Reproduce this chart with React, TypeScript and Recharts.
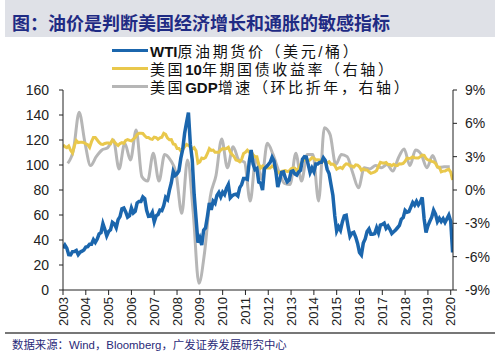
import React from 'react';
import { LineChart, Line, XAxis, YAxis } from 'recharts';

// WTI crude futures price (USD/bbl), monthly, Jan 2003 - Feb 2020
const wtiMonthly = [
  33.5, 35.9, 33.5, 28.3, 28.1, 30.7, 30.8, 31.6, 28.3, 30.3, 31.1, 32.1,
  34.3, 34.7, 36.7, 36.7, 40.3, 38.0, 40.7, 44.9, 45.9, 53.1, 48.5, 43.3,
  46.8, 48.1, 54.2, 53.0, 49.8, 56.3, 58.7, 65.0, 65.6, 62.4, 58.3, 59.4,
  65.5, 61.6, 62.9, 69.7, 70.9, 70.9, 74.4, 73.0, 63.8, 58.9, 59.1, 62.0,
  54.5, 59.3, 60.4, 63.9, 63.5, 67.5, 74.1, 72.4, 79.9, 85.8, 94.8, 91.7,
  93.0, 95.4, 105.5, 112.6, 125.4, 134.0, 142.0, 116.7, 104.1, 76.6, 57.3, 38.0,
  41.7, 36.0, 47.9, 49.7, 59.0, 69.6, 64.2, 71.1, 69.4, 75.7, 78.0, 74.5,
  78.3, 76.4, 81.2, 84.3, 73.7, 75.3, 76.3, 76.6, 75.2, 81.9, 84.3, 89.2,
  89.2, 88.6, 102.9, 112.0, 100.9, 96.3, 97.3, 86.3, 85.5, 80.0, 97.2, 98.6,
  100.3, 102.2, 106.2, 103.3, 94.7, 82.3, 87.9, 94.1, 94.5, 89.5, 86.5, 87.9,
  94.8, 95.3, 92.9, 92.0, 94.5, 95.8, 104.6, 106.6, 106.3, 100.5, 93.9, 97.6,
  94.6, 100.8, 100.8, 102.1, 102.2, 105.8, 103.6, 96.5, 93.2, 84.4, 75.8, 59.3,
  47.2, 50.6, 47.8, 54.5, 59.3, 59.8, 50.9, 42.9, 45.5, 46.2, 42.4, 37.2,
  30.0, 28.0, 37.5, 40.8, 46.7, 48.8, 44.7, 44.7, 45.2, 49.8, 45.7, 52.0,
  52.5, 53.5, 49.3, 51.1, 48.5, 45.2, 46.6, 48.0, 49.8, 51.6, 56.6, 57.9,
  63.7, 62.2, 62.7, 66.3, 70.0, 67.9, 71.0, 68.1, 70.2, 74.0, 57.0, 46.0,
  51.4, 55.0, 58.2, 63.9, 60.8, 54.7, 57.4, 54.8, 57.0, 54.0, 57.0, 59.9,
  55.0, 30.0,
];

// US 10-year Treasury yield (%), monthly, Jan 2003 - Feb 2020
const yieldMonthly = [
  4.05, 3.90, 3.81, 3.96, 3.57, 3.33, 3.98, 4.45, 4.27, 4.29, 4.30, 4.27,
  4.15, 4.08, 3.83, 4.35, 4.72, 4.73, 4.50, 4.28, 4.13, 4.10, 4.19, 4.23,
  4.22, 4.17, 4.50, 4.34, 4.14, 4.00, 4.18, 4.26, 4.20, 4.46, 4.54, 4.47,
  4.42, 4.57, 4.72, 4.99, 5.11, 5.11, 5.09, 4.88, 4.72, 4.73, 4.60, 4.56,
  4.76, 4.72, 4.56, 4.69, 4.75, 5.10, 5.00, 4.67, 4.52, 4.53, 4.15, 4.10,
  3.74, 3.74, 3.51, 3.68, 3.88, 4.10, 4.01, 3.89, 3.69, 3.81, 3.53, 2.42,
  2.52, 2.87, 2.82, 2.93, 3.29, 3.72, 3.56, 3.59, 3.40, 3.39, 3.40, 3.59,
  3.73, 3.69, 3.73, 3.85, 3.42, 3.20, 3.01, 2.70, 2.65, 2.54, 2.76, 3.29,
  3.39, 3.58, 3.41, 3.46, 3.17, 3.00, 3.00, 2.30, 1.98, 2.15, 2.01, 1.98,
  1.97, 1.97, 2.17, 2.05, 1.80, 1.62, 1.53, 1.68, 1.72, 1.75, 1.65, 1.72,
  1.91, 1.98, 1.96, 1.76, 1.93, 2.30, 2.58, 2.74, 2.81, 2.62, 2.72, 2.90,
  2.86, 2.71, 2.72, 2.71, 2.56, 2.60, 2.54, 2.42, 2.53, 2.30, 2.33, 2.21,
  1.88, 1.98, 2.04, 1.94, 2.20, 2.36, 2.32, 2.17, 2.17, 2.07, 2.26, 2.24,
  2.09, 1.78, 1.89, 1.81, 1.81, 1.64, 1.50, 1.56, 1.63, 1.76, 2.14, 2.49,
  2.43, 2.42, 2.48, 2.30, 2.30, 2.19, 2.32, 2.21, 2.20, 2.36, 2.35, 2.40,
  2.58, 2.86, 2.84, 2.87, 2.98, 2.91, 2.89, 2.89, 3.00, 3.15, 3.12, 2.83,
  2.71, 2.68, 2.57, 2.53, 2.40, 2.07, 2.06, 1.63, 1.70, 1.71, 1.81, 1.86,
  1.60, 0.90,
];

// US real GDP growth (QoQ annualised, %), quarterly, 2003Q1 - 2019Q4
const gdpQuarterly = [
  2.4, 3.6, 7.0, 4.3,
  2.2, 3.0, 3.6, 3.8,
  4.5, 1.9, 4.2, 2.7,
  5.4, 1.2, 0.8, 3.3,
  0.8, 3.2, 2.7, 1.5,
  -2.1, 2.7, -2.0, -8.4,
  -5.6, -0.6, 1.3, 4.6,
  2.0, 3.9, 2.7, 2.5,
  -1.0, 2.9, 1.0, 4.2,
  3.2, 1.7, 0.6, 0.5,
  3.3, 0.8, 3.2, 3.2,
  -1.0, 5.6, 5.0, 2.3,
  3.2, 3.0, 1.5, 0.2,
  2.0, 1.9, 2.2, 2.0,
  2.3, 1.7, 2.9, 3.7,
  2.2, 3.6, 3.2, 2.0,
  3.1, 2.0, 2.1, 2.1,
];

const startYear = 2003;
const yearTicks = [2003, 2004, 2005, 2006, 2007, 2008, 2009, 2010, 2011, 2012, 2013, 2014, 2015, 2016, 2017, 2018, 2019, 2020];
const leftTicks = [0, 20, 40, 60, 80, 100, 120, 140, 160];
const rightTicks = [-9, -6, -3, 0, 3, 6, 9];

const seriesNames = {
  wti: ['WTI', '原油期货价（美元/桶）'],
  y10: ['美国', '10', '年期国债收益率（右轴）'],
  gdp: ['美国', 'GDP', '增速（环比折年，右轴）'],
};

const monthlyData = wtiMonthly.map((w, i) => ({ t: startYear + i / 12, wti: w, y10: yieldMonthly[i] }));
const quarterlyData = gdpQuarterly.map((g, i) => ({ t: startYear + (3 * i + 2.5) / 12, gdp: g }));

const BLUE = '#1b66ad';
const YELLOW = '#e9c84c';
const GRAY = '#b6b6b6';
const FONT = '"Liberation Sans", Arial, sans-serif';
const CJK = '"Liberation Sans", "Noto Sans CJK SC", sans-serif';

const XTick = (props: any) => {
  const { x, y, payload } = props;
  return (
    <text
      x={x}
      y={y}
      transform={`rotate(-90 ${x} ${y})`}
      textAnchor="end"
      dominantBaseline="central"
      fontSize={13}
      fill="#222"
      fontFamily={FONT}
    >
      {payload.value}
    </text>
  );
};

const LegendBlock = () => {
  const rows: { color: string; parts: { text: string; bold: boolean }[] }[] = [
    { color: BLUE, parts: [{ text: seriesNames.wti[0], bold: true }, { text: seriesNames.wti[1], bold: false }] },
    {
      color: YELLOW,
      parts: [
        { text: seriesNames.y10[0], bold: false },
        { text: seriesNames.y10[1], bold: true },
        { text: seriesNames.y10[2], bold: false },
      ],
    },
    {
      color: GRAY,
      parts: [
        { text: seriesNames.gdp[0], bold: false },
        { text: seriesNames.gdp[1], bold: true },
        { text: seriesNames.gdp[2], bold: false },
      ],
    },
  ];
  return (
    <div style={{ position: 'absolute', left: 112, top: 41, fontFamily: CJK, color: '#111' }}>
      {rows.map((r, i) => (
        <div key={i} style={{ display: 'flex', alignItems: 'center', height: 18, whiteSpace: 'nowrap' }}>
          <div style={{ width: 36, height: 3, background: r.color, marginRight: 2 }} />
          <span style={{ fontSize: 15 }}>
            {r.parts.map((p, j) => (
              <span key={j} style={{ fontWeight: p.bold ? 700 : 400, letterSpacing: p.bold ? 0 : 2.6 }}>
                {p.text}
              </span>
            ))}
          </span>
        </div>
      ))}
    </div>
  );
};

export default function App() {
  return (
    <div style={{ position: 'absolute', left: 0, top: 0, width: 500, height: 361, background: '#fff', overflow: 'hidden' }}>
      <div
        style={{
          position: 'absolute',
          left: 5,
          top: 0,
          width: 490,
          height: 37,
          background: '#dfe1e7',
        }}
      />
      <div
        style={{
          position: 'absolute',
          left: 12,
          top: 10,
          fontFamily: '"Noto Sans CJK SC", sans-serif',
          fontWeight: 700,
          fontSize: 18,
          lineHeight: '24px',
          color: '#1f2b84',
          whiteSpace: 'nowrap',
        }}
      >
        图：油价是判断美国经济增长和通胀的敏感指标
      </div>
      <div style={{ position: 'absolute', left: 0, top: 0 }}>
        <LineChart width={500} height={361} margin={{ top: 90, right: 2, bottom: 31, left: 8 }}>
          <XAxis
            dataKey="t"
            type="number"
            domain={[2003, 2020.1]}
            ticks={yearTicks}
            allowDataOverflow
            tick={<XTick />}
            tickSize={5}
            tickMargin={2}
            height={40}
            stroke="#222"
            interval={0}
          />
          <YAxis
            yAxisId="left"
            orientation="left"
            domain={[0, 160]}
            ticks={leftTicks}
            width={55}
            tickSize={4}
            tickMargin={10}
            stroke="#222"
            tick={{ fontSize: 14, fill: '#222', fontFamily: FONT }}
            interval={0}
          />
          <YAxis
            yAxisId="right"
            orientation="right"
            domain={[-9, 9]}
            ticks={rightTicks}
            width={45}
            tickSize={4}
            tickMargin={8}
            stroke="#222"
            tickFormatter={(v: number) => `${v}%`}
            tick={{ fontSize: 14, fill: '#222', fontFamily: FONT, textAnchor: 'start' }}
            interval={0}
          />
          <Line
            yAxisId="right"
            data={quarterlyData}
            dataKey="gdp"
            type="monotone"
            stroke={GRAY}
            strokeWidth={3}
            dot={false}
            isAnimationActive={false}
          />
          <Line
            yAxisId="right"
            data={monthlyData}
            dataKey="y10"
            type="linear"
            stroke={YELLOW}
            strokeWidth={3}
            dot={false}
            isAnimationActive={false}
          />
          <Line
            yAxisId="left"
            data={monthlyData}
            dataKey="wti"
            type="linear"
            stroke={BLUE}
            strokeWidth={3.5}
            dot={false}
            isAnimationActive={false}
          />
        </LineChart>
      </div>
      <LegendBlock />
      <div style={{ position: 'absolute', left: 5, top: 332, width: 490, height: 2, background: '#777' }} />
      <div
        style={{
          position: 'absolute',
          left: 12,
          top: 337,
          fontFamily: CJK,
          fontSize: 11.4,
          lineHeight: '16px',
          color: '#2a2a78',
          whiteSpace: 'nowrap',
        }}
      >
        数据来源：Wind，Bloomberg，广发证券发展研究中心
      </div>
    </div>
  );
}
